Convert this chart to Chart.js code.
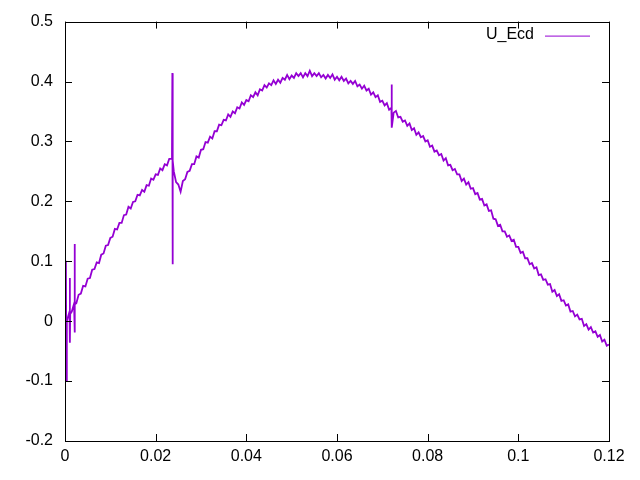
<!DOCTYPE html>
<html><head><meta charset="utf-8">
<style>html,body{margin:0;padding:0;background:#fff}canvas{display:block}</style>
</head><body>
<canvas id="c" width="640" height="480"></canvas>
<script src="https://cdn.jsdelivr.net/npm/chart.js@4.4.0/dist/chart.umd.min.js"></script>
<script>
const seriesName = "U_Ecd";
const xTicks = [0, 0.02, 0.04, 0.06, 0.08, 0.1, 0.12];
const yTicks = [-0.2, -0.1, 0, 0.1, 0.2, 0.3, 0.4, 0.5];

const sampleX = [
0,0.0005,0.001,0.0015,0.002,0.0025,0.003,0.0035,0.004,0.0045,
0.005,0.0055,0.006,0.0065,0.007,0.0075,0.008,0.0085,0.009,0.0095,
0.01,0.0105,0.011,0.0115,0.012,0.0125,0.013,0.0135,0.014,0.0145,
0.015,0.0155,0.016,0.0165,0.017,0.0175,0.018,0.0185,0.019,0.0195,
0.02,0.0205,0.021,0.0215,0.022,0.0225,0.023,0.0235,0.024,0.0245,
0.025,0.0255,0.026,0.0265,0.027,0.0275,0.028,0.0285,0.029,0.0295,
0.03,0.0305,0.031,0.0315,0.032,0.0325,0.033,0.0335,0.034,0.0345,
0.035,0.0355,0.036,0.0365,0.037,0.0375,0.038,0.0385,0.039,0.0395,
0.04,0.0405,0.041,0.0415,0.042,0.0425,0.043,0.0435,0.044,0.0445,
0.045,0.0455,0.046,0.0465,0.047,0.0475,0.048,0.0485,0.049,0.0495,
0.05,0.0505,0.051,0.0515,0.052,0.0525,0.053,0.0535,0.054,0.0545,
0.055,0.0555,0.056,0.0565,0.057,0.0575,0.058,0.0585,0.059,0.0595,
0.06,0.0605,0.061,0.0615,0.062,0.0625,0.063,0.0635,0.064,0.0645,
0.065,0.0655,0.066,0.0665,0.067,0.0675,0.068,0.0685,0.069,0.0695,
0.07,0.0705,0.071,0.0715,0.072,0.0725,0.073,0.0735,0.074,0.0745,
0.075,0.0755,0.076,0.0765,0.077,0.0775,0.078,0.0785,0.079,0.0795,
0.08,0.0805,0.081,0.0815,0.082,0.0825,0.083,0.0835,0.084,0.0845,
0.085,0.0855,0.086,0.0865,0.087,0.0875,0.088,0.0885,0.089,0.0895,
0.09,0.0905,0.091,0.0915,0.092,0.0925,0.093,0.0935,0.094,0.0945,
0.095,0.0955,0.096,0.0965,0.097,0.0975,0.098,0.0985,0.099,0.0995,
0.1,0.1005,0.101,0.1015,0.102,0.1025,0.103,0.1035,0.104,0.1045,
0.105,0.1055,0.106,0.1065,0.107,0.1075,0.108,0.1085,0.109,0.1095,
0.11,0.1105,0.111,0.1115,0.112,0.1125,0.113,0.1135,0.114,0.1145,
0.115,0.1155,0.116,0.1165,0.117,0.1175,0.118,0.1185,0.119,0.1195,
0.12
];
const sampleY = [
0.003,0.003,0.016,0.016,0.029,0.030,0.044,0.046,0.059,0.058,
0.071,0.072,0.086,0.087,0.098,0.097,0.111,0.113,0.126,0.127,
0.139,0.141,0.154,0.153,0.164,0.164,0.177,0.178,0.191,0.188,
0.199,0.200,0.211,0.210,0.219,0.216,0.227,0.226,0.238,0.236,
0.245,0.244,0.255,0.252,0.262,0.260,0.271,0.271,0.250,0.232,
0.228,0.216,0.234,0.237,0.249,0.251,0.262,0.262,0.275,0.273,
0.286,0.287,0.299,0.298,0.308,0.305,0.317,0.317,0.328,0.327,
0.336,0.335,0.345,0.341,0.350,0.347,0.357,0.355,0.365,0.361,
0.369,0.367,0.377,0.374,0.382,0.377,0.387,0.385,0.394,0.390,
0.397,0.394,0.402,0.396,0.403,0.398,0.406,0.403,0.411,0.404,
0.410,0.406,0.414,0.409,0.414,0.407,0.414,0.409,0.418,0.409,
0.414,0.409,0.414,0.407,0.411,0.405,0.411,0.406,0.412,0.403,
0.408,0.402,0.408,0.401,0.405,0.397,0.401,0.396,0.401,0.392,
0.395,0.388,0.393,0.385,0.388,0.378,0.382,0.374,0.377,0.366,
0.368,0.360,0.364,0.353,0.356,0.348,0.351,0.340,0.341,0.333,
0.335,0.326,0.330,0.319,0.322,0.311,0.315,0.307,0.309,0.300,
0.302,0.291,0.293,0.283,0.285,0.277,0.279,0.268,0.272,0.260,
0.261,0.252,0.254,0.245,0.245,0.234,0.238,0.228,0.232,0.221,
0.222,0.212,0.214,0.203,0.204,0.193,0.195,0.184,0.185,0.171,
0.170,0.159,0.161,0.150,0.150,0.141,0.143,0.134,0.136,0.124,
0.124,0.114,0.116,0.105,0.105,0.095,0.097,0.088,0.090,0.077,
0.078,0.069,0.070,0.061,0.062,0.049,0.052,0.042,0.045,0.034,
0.035,0.026,0.028,0.016,0.017,0.008,0.011,0.003,0.004,-0.008,
-0.005,-0.014,-0.010,-0.019,-0.017,-0.026,-0.023,-0.034,-0.031,-0.041,
-0.039
];
// isolated spike samples
const spikeX = [0.0002,0.0003,0.0004,0.00105,0.0011,0.00115,0.0021,0.00215,0.0022,0.0236,0.02368,0.02372,0.02375,0.0238,0.07205,0.0721];
const spikeY = [0.101,-0.1,0.0,0.072,-0.036,0.012,0.129,-0.019,0.028,0.278,0.414,0.26,0.095,0.268,0.395,0.323];

const points = sampleX.map((x,i)=>({x:x,y:sampleY[i]}))
  .concat(spikeX.map((x,i)=>({x:x,y:spikeY[i]})))
  .sort((a,b)=>a.x-b.x);

const LINE_COLOR = '#9400D3';
const FONT = {family:'"Liberation Sans", Arial, sans-serif', size:16};

const framePlugin = {
  id:'gnuframe',
  afterDatasetsDraw(chart){
    const {ctx, chartArea:a, scales} = chart;
    ctx.save();
    ctx.strokeStyle = '#000';
    ctx.lineWidth = 1;
    const T = 7;
    ctx.beginPath();
    xTicks.forEach(v=>{
      const px = Math.round(scales.x.getPixelForValue(v))+0.5;
      ctx.moveTo(px, a.bottom); ctx.lineTo(px, a.bottom - T);
      ctx.moveTo(px, a.top); ctx.lineTo(px, a.top + T);
    });
    yTicks.forEach(v=>{
      const py = Math.round(scales.y.getPixelForValue(v))+0.5;
      ctx.moveTo(a.left, py); ctx.lineTo(a.left + T, py);
      ctx.moveTo(a.right, py); ctx.lineTo(a.right - T, py);
    });
    ctx.stroke();
    ctx.strokeRect(Math.round(a.left)+0.5, Math.round(a.top)+0.5, Math.round(a.right-a.left), Math.round(a.bottom-a.top));
    // key
    const ds = chart.data.datasets[0];
    ctx.fillStyle = '#000';
    ctx.font = '16px "Liberation Sans", Arial, sans-serif';
    ctx.textAlign = 'right';
    ctx.textBaseline = 'middle';
    ctx.fillText(ds.label, a.right - 75, a.top + 13);
    ctx.strokeStyle = ds.borderColor;
    ctx.lineWidth = 1;
    ctx.beginPath();
    ctx.moveTo(a.right - 64, a.top + 14.5);
    ctx.lineTo(a.right - 19, a.top + 14.5);
    ctx.stroke();
    ctx.restore();
  }
};

new Chart(document.getElementById('c'), {
  type:'line',
  data:{datasets:[{
    label: seriesName,
    data: points,
    borderColor: LINE_COLOR,
    borderWidth: 1.8,
    pointRadius: 0,
    fill: false,
    tension: 0
  }]},
  options:{
    responsive:false,
    devicePixelRatio:1,
    animation:false,
    layout:{padding:{left:0, top:18, right:31, bottom:0}},
    plugins:{legend:{display:false}, tooltip:{enabled:false}},
    scales:{
      x:{
        type:'linear', min:0, max:0.12,
        afterBuildTicks(s){ s.ticks = xTicks.map(v=>({value:v})); },
        afterFit(s){ s.height = 39; },
        ticks:{ callback:v=>String(+v.toFixed(2)), color:'#000', font:FONT, padding:6, maxRotation:0, autoSkip:false },
        grid:{display:false, drawTicks:false},
        border:{display:false}
      },
      y:{
        type:'linear', min:-0.2, max:0.5,
        afterBuildTicks(s){ s.ticks = yTicks.map(v=>({value:v})); },
        afterFit(s){ s.width = 65; },
        ticks:{ callback:v=>String(+v.toFixed(1)), color:'#000', font:FONT, padding:12 },
        grid:{display:false, drawTicks:false},
        border:{display:false}
      }
    }
  },
  plugins:[framePlugin]
});
</script>
</body></html>
